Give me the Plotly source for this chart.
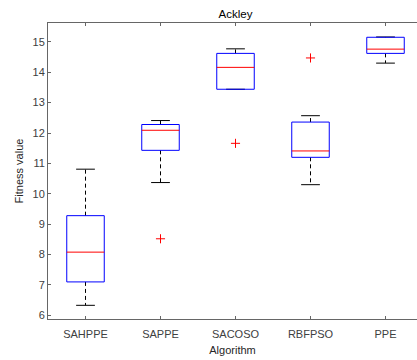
import plotly.graph_objects as go

categories = ["SAHPPE", "SAPPE", "SACOSO", "RBFPSO", "PPE"]
lower_whisker = [6.33, 10.37, 13.44, 10.30, 14.30]
q1 = [7.10, 11.43, 13.44, 11.20, 14.62]
median = [8.08, 12.09, 14.16, 11.41, 14.76]
q3 = [9.28, 12.28, 14.62, 12.36, 15.15]
upper_whisker = [10.81, 12.41, 14.77, 12.57, 15.16]
outlier_cat = ["SAPPE", "SACOSO", "RBFPSO"]
outlier_val = [8.52, 11.66, 14.47]

pos = {c: i + 1 for i, c in enumerate(categories)}
BOX_HALF = 0.25
CAP_HALF = 0.125

wx, wy, cx, cy, bx, by, mx, my = [], [], [], [], [], [], [], []
for c, lw, a, m, b, uw in zip(categories, lower_whisker, q1, median, q3, upper_whisker):
    p = pos[c]
    wx += [p, p, None, p, p, None]
    wy += [b, uw, None, a, lw, None]
    cx += [p - CAP_HALF, p + CAP_HALF, None, p - CAP_HALF, p + CAP_HALF, None]
    cy += [uw, uw, None, lw, lw, None]
    bx += [p - BOX_HALF, p + BOX_HALF, p + BOX_HALF, p - BOX_HALF, p - BOX_HALF, None]
    by += [a, a, b, b, a, None]
    mx += [p - BOX_HALF, p + BOX_HALF, None]
    my += [m, m, None]

fig = go.Figure()
fig.add_trace(go.Scatter(x=wx, y=wy, mode="lines",
                         line=dict(color="black", width=1, dash="4px,3px"),
                         hoverinfo="skip"))
fig.add_trace(go.Scatter(x=cx, y=cy, mode="lines",
                         line=dict(color="black", width=1), hoverinfo="skip"))
fig.add_trace(go.Scatter(x=bx, y=by, mode="lines",
                         line=dict(color="#0000ff", width=1), hoverinfo="skip"))
fig.add_trace(go.Scatter(x=mx, y=my, mode="lines",
                         line=dict(color="#ff0000", width=1), hoverinfo="skip"))
fig.add_trace(go.Scatter(x=[pos[c] for c in outlier_cat], y=outlier_val, mode="markers",
                         marker=dict(symbol="cross-thin", size=6.5,
                                     line=dict(color="#ff0000", width=1)),
                         hoverinfo="skip"))

font_family = "Liberation Sans, Arial, sans-serif"
axis_col = "#666666"
fig.update_layout(
    width=417, height=360,
    margin=dict(l=48, r=0, t=23, b=41),
    paper_bgcolor="white", plot_bgcolor="white",
    showlegend=False,
    font=dict(family=font_family, size=11, color="#262626"),
    title=dict(text="Ackley", x=235.5 / 417, xanchor="center",
               y=1 - 14 / 360, yanchor="middle", yref="container",
               font=dict(size=11.5, color="black")),
    xaxis=dict(
        range=[0.5, 0.5 + 369 / 75],
        tickmode="array",
        tickvals=[pos[c] for c in categories],
        ticktext=categories,
        ticks="inside", ticklen=3, tickcolor=axis_col,
        ticklabelstandoff=5,
        showline=True, linecolor=axis_col, linewidth=1,
        mirror="ticks",
        showgrid=False, zeroline=False,
        title=dict(text="Algorithm", standoff=7, font=dict(size=11)),
        tickfont=dict(size=11, color="#404040"),
    ),
    yaxis=dict(
        range=[5.88, 15.62],
        tickmode="array",
        tickvals=list(range(6, 16)),
        ticks="inside", ticklen=3, tickcolor=axis_col,
        showline=True, linecolor=axis_col, linewidth=1,
        mirror=False,
        showgrid=False, zeroline=False,
        title=dict(text="Fitness value", standoff=6, font=dict(size=11)),
        tickfont=dict(size=11, color="#404040"),
    ),
)

fig.write_html("out.html")
